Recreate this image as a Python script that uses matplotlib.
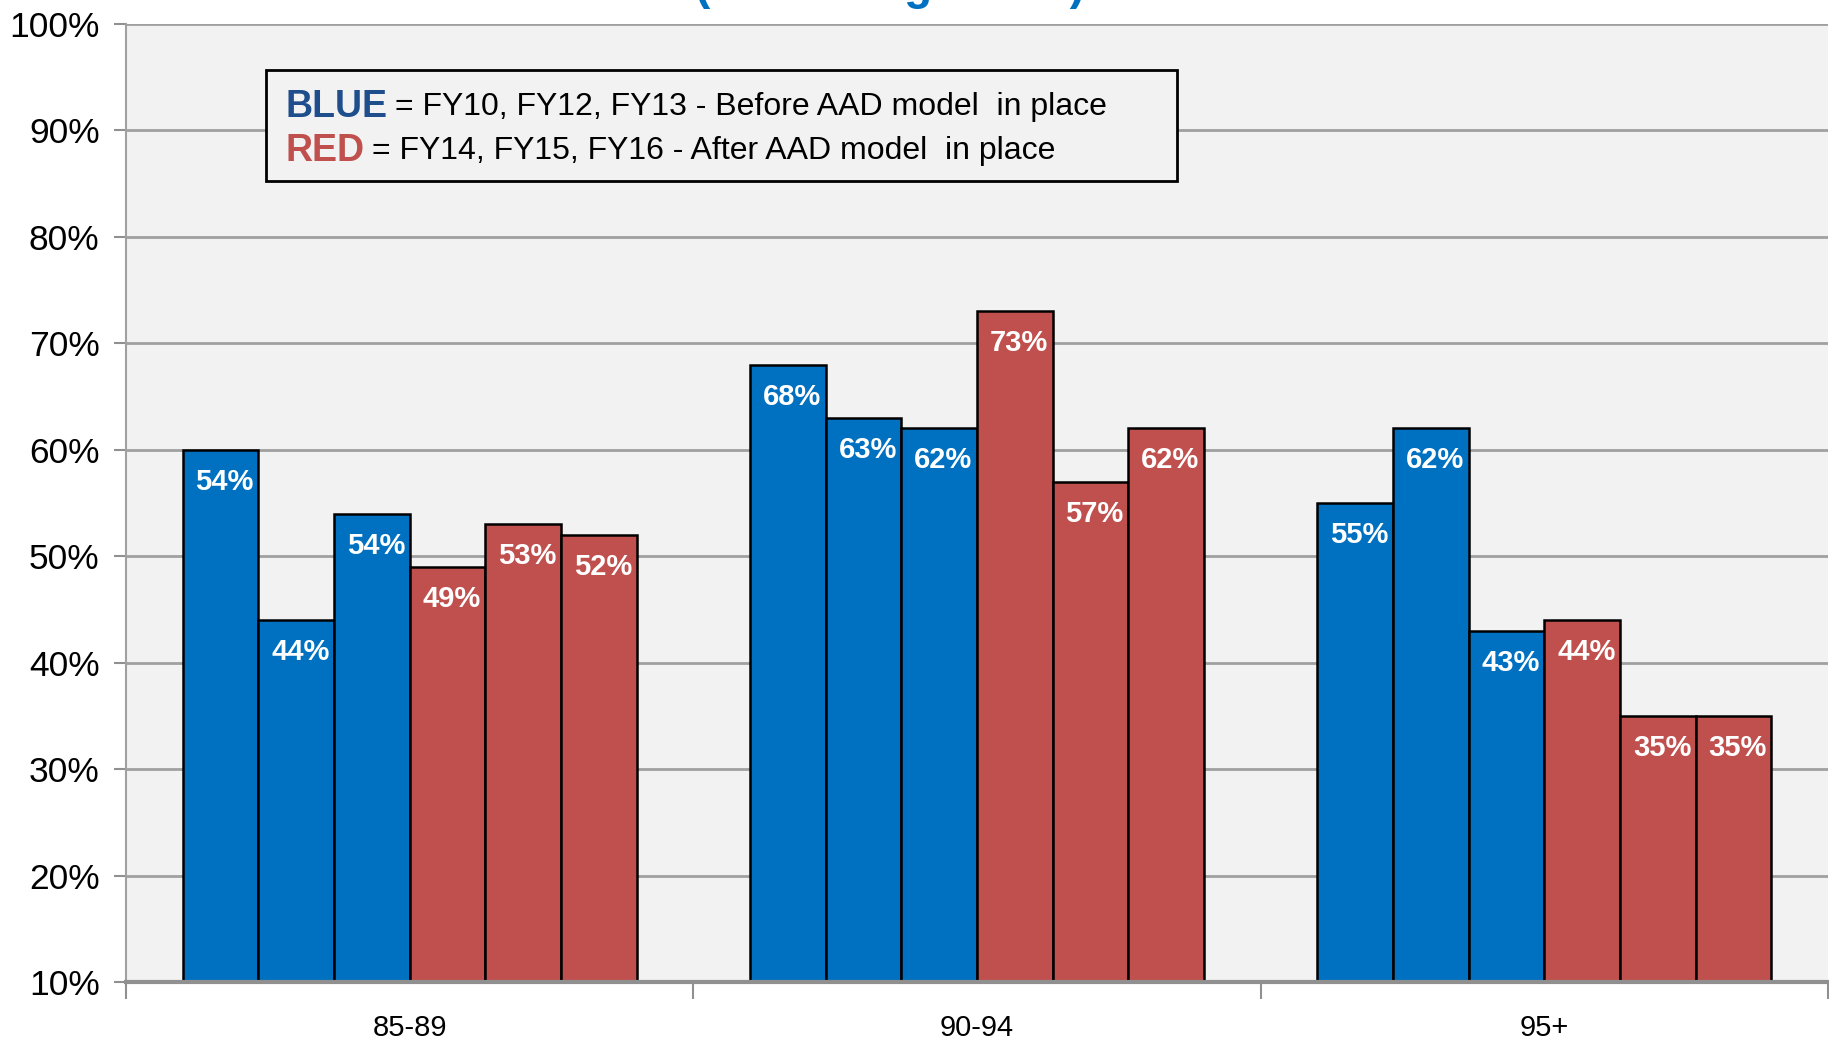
import matplotlib
matplotlib.use("Agg")
import matplotlib.pyplot as plt
import numpy as np

plt.rcParams['font.family'] = ['Liberation Sans', 'DejaVu Sans']

categories = ["85-89", "90-94", "95+"]
series_names = ["FY10", "FY12", "FY13", "FY14", "FY15", "FY16"]
# values (percent) per series, across categories
fy10 = [60, 68, 55]
fy12 = [44, 63, 62]
fy13 = [54, 62, 43]
fy14 = [49, 73, 44]
fy15 = [53, 57, 35]
fy16 = [52, 62, 35]
# labels shown on the bars (as printed in the original)
lab_fy10 = ["54%", "68%", "55%"]
lab_fy12 = ["44%", "63%", "62%"]
lab_fy13 = ["54%", "62%", "43%"]
lab_fy14 = ["49%", "73%", "44%"]
lab_fy15 = ["53%", "57%", "35%"]
lab_fy16 = ["52%", "62%", "35%"]
yticks = [10, 20, 30, 40, 50, 60, 70, 80, 90, 100]

series = [fy10, fy12, fy13, fy14, fy15, fy16]
labels = [lab_fy10, lab_fy12, lab_fy13, lab_fy14, lab_fy15, lab_fy16]
BLUE = "#0070C0"
RED = "#C0504D"
colors = [BLUE, BLUE, BLUE, RED, RED, RED]

W, H = 1829, 1042
fig = plt.figure(figsize=(W / 100, H / 100), dpi=100)
fig.patch.set_facecolor("white")
ax = fig.add_axes([126 / W, 1 - 982 / H, (1828 - 126) / W, (982 - 24) / H])
ax.set_facecolor("#F2F2F2")

n = len(series)
group_w = 0.8
bw = group_w / n
x = np.arange(len(categories))
base = 10
for i, (vals, labs, c) in enumerate(zip(series, labels, colors)):
    pos = x - group_w / 2 + bw * (i + 0.5)
    heights = np.array(vals) - base
    ax.bar(pos, heights, bottom=base, width=bw, color=c, edgecolor="black",
           linewidth=1.8, zorder=3)
    for p, v, t in zip(pos, vals, labs):
        ax.annotate(t, (p, v), xytext=(3, -23), textcoords="offset points",
                    ha="center", va="center", color="white", fontsize=21,
                    fontweight="bold", zorder=4)

ax.set_xlim(-0.5, len(categories) - 0.5)
ax.set_ylim(10, 100)
ax.set_yticks(yticks)
ax.set_yticklabels([f"{v}%" for v in yticks], fontsize=25.5)
ax.yaxis.grid(True, color="#A0A0A0", linewidth=2, zorder=0)
ax.set_axisbelow(True)

ax.set_xticks(x)
ax.set_xticklabels(categories, fontsize=21)
ax.tick_params(axis="x", length=0, pad=23)
ax.set_xticks(np.arange(len(categories) + 1) - 0.5, minor=True)
ax.tick_params(axis="x", which="minor", length=12, color="#909090", width=1.5)
ax.tick_params(axis="y", length=9, color="#909090", width=1.5, pad=10)

for s in ["top", "right"]:
    ax.spines[s].set_visible(False)
ax.spines["left"].set_color("#A0A0A0")
ax.spines["left"].set_linewidth(1.5)
ax.spines["bottom"].set_color("#909090")
ax.spines["bottom"].set_linewidth(3)
ax.spines["bottom"].set_zorder(5)

# explanatory box
box = plt.Rectangle((266 / W, 1 - 181 / H), (1177 - 266) / W, (181 - 70) / H,
                    transform=fig.transFigure, facecolor="#F2F2F2",
                    edgecolor="black", linewidth=2, zorder=10)
fig.patches.append(box)
y1 = 1 - 107 / H
y2 = 1 - 151 / H
t1 = fig.text(285 / W, y1, "BLUE", color="#1F4E8C", fontsize=27,
              fontweight="bold", va="center", ha="left", zorder=11)
fig.canvas.draw()
r = fig.canvas.get_renderer()
bb = t1.get_window_extent(r)
fig.text(bb.x1 / W + 8 / W, y1, "= FY10, FY12, FY13 - Before AAD model  in place",
         fontsize=23, va="center", ha="left", zorder=11)
t2 = fig.text(285 / W, y2, "RED", color=RED, fontsize=27,
              fontweight="bold", va="center", ha="left", zorder=11)
bb2 = t2.get_window_extent(r)
fig.text(bb2.x1 / W + 8 / W, y2, "= FY14, FY15, FY16 - After AAD model  in place",
         fontsize=23, va="center", ha="left", zorder=11)

# title (cut off at the top of the picture)
fig.text(890 / W, 1 + 1 / H, "(Percentage Rate)", color=BLUE, fontsize=33,
         fontweight="bold", ha="center", va="baseline")

fig.savefig("out.png", dpi=100)
